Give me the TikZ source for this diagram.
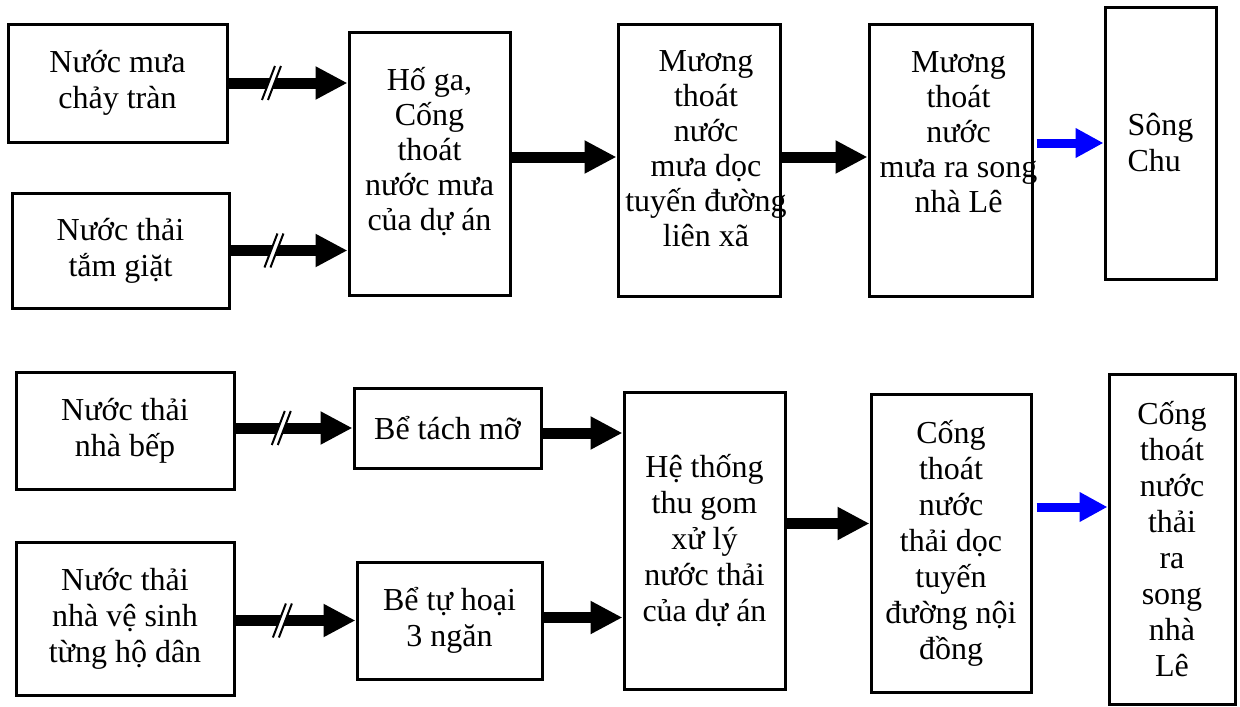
\documentclass[tikz,border=0pt]{standalone}
\usepackage{fontspec}
\setmainfont{Liberation Serif}
\usetikzlibrary{arrows.meta,calc}

\newcommand{\brk}[1]{%
  \fill[white] ($(#1)+(-7,17)$) -- ++(13,-34) -- ++(6,0) -- ++(-13,34) -- cycle;
  \draw[line width=2pt] ($(#1)+(-7,17)$) -- ++(13,-34);
  \draw[line width=2pt] ($(#1)+(-1,17)$) -- ++(13,-34);
}

\begin{document}
\begin{tikzpicture}[x=1pt,y=-1pt]

\tikzstyle{bx} = [rectangle, draw=black, line width=3pt, align=center, inner sep=0pt, font=\fontsize{32}{36}\selectfont]
\tikzstyle{lb} = [align=center, inner sep=0pt, font=\fontsize{32}{35}\selectfont]
\tikzstyle{ar} = [line width=11pt, -{Triangle[length=32pt,width=31pt]}]
\tikzstyle{bl} = [blue, line width=9pt, -{Triangle[length=28pt,width=28pt]}]

\useasboundingbox (0,0) rectangle (1240,707);

% top row
\node (rain) [bx, minimum width=219pt, minimum height=118pt] at (117.5,83) {Nước mưa\\chảy tràn};
\node (bath) [bx, minimum width=217pt, minimum height=115pt] at (120.5,250.5) {Nước thải\\tắm giặt};
\node (pit) [bx, minimum width=161pt, minimum height=263pt, label={[lb,yshift=12pt]center:{Hố ga,\\Cống\\thoát\\nước mưa\\của dự án}}] at (429.5,163.5) {};
\node (ditch) [bx, minimum width=162pt, minimum height=272pt, label={[lb,xshift=7pt,yshift=11pt]center:{Mương\\thoát\\nước\\mưa dọc\\tuyến đường\\liên xã}}] at (699,160) {};
\node (outlet) [bx, minimum width=163pt, minimum height=272pt, label={[lb,xshift=8pt,yshift=28pt]center:{Mương\\thoát\\nước\\mưa ra song\\nhà Lê}}] at (950.5,160) {};
\node (river) [bx, align=left, minimum width=111pt, minimum height=272pt] at (1160.5,143) {Sông\\Chu};

% bottom row
\node (kitchen) [bx, minimum width=218pt, minimum height=117pt] at (125,430.5) {Nước thải\\nhà bếp};
\node (grease) [bx, minimum width=187pt, minimum height=80pt] at (447.5,428) {Bể tách mỡ};
\node (toilet) [bx, minimum width=218pt, minimum height=153pt] at (125,618.5) {Nước thải\\nhà vệ sinh\\từng hộ dân};
\node (septic) [bx, minimum width=185pt, minimum height=117pt] at (449.5,620.5) {Bể tự hoại\\3 ngăn};
\node (collect) [bx, minimum width=161pt, minimum height=297pt] at (704.5,540.5) {Hệ thống\\thu gom\\xử lý\\nước thải\\của dự án};
\node (sewer) [bx, minimum width=160pt, minimum height=298pt] at (951,543) {Cống\\thoát\\nước\\thải dọc\\tuyến\\đường nội\\đồng};
\node (drain) [bx, minimum width=126pt, minimum height=330pt] at (1172,539) {Cống\\thoát\\nước\\thải\\ra\\song\\nhà\\Lê};

% arrows
\draw[ar] (rain.east) -- coordinate[pos=.34] (b1) (rain.east -| pit.west);
\draw[ar] (bath.east) -- coordinate[pos=.35] (b2) (bath.east -| pit.west);
\draw[ar] ([yshift=3pt]pit.east |- ditch.west) -- ([yshift=3pt]ditch.west);
\draw[ar] ([yshift=3pt]ditch.east) -- ([yshift=3pt]outlet.west);
\draw[bl] ([xshift=3pt]outlet.east |- river.west) -- (river.west);

\draw[ar] (kitchen.east |- grease.west) -- coordinate[pos=.37] (b3) (grease.west);
\draw[ar] ([yshift=-5pt]grease.east) -- ([yshift=-5pt]grease.east -| collect.west);
\draw[ar] (toilet.east |- septic.west) -- coordinate[pos=.37] (b4) (septic.west);
\draw[ar] ([yshift=3pt]septic.east) -- ([yshift=3pt]septic.east -| collect.west);
\draw[ar] ([yshift=17pt]collect.east) -- ([yshift=17pt]collect.east -| sewer.west);
\draw[bl] ([xshift=4pt,yshift=36pt]sewer.east) -- ([yshift=36pt]sewer.east -| drain.west);

\brk{b1}
\brk{b2}
\brk{b3}
\brk{b4}

\end{tikzpicture}
\end{document}
